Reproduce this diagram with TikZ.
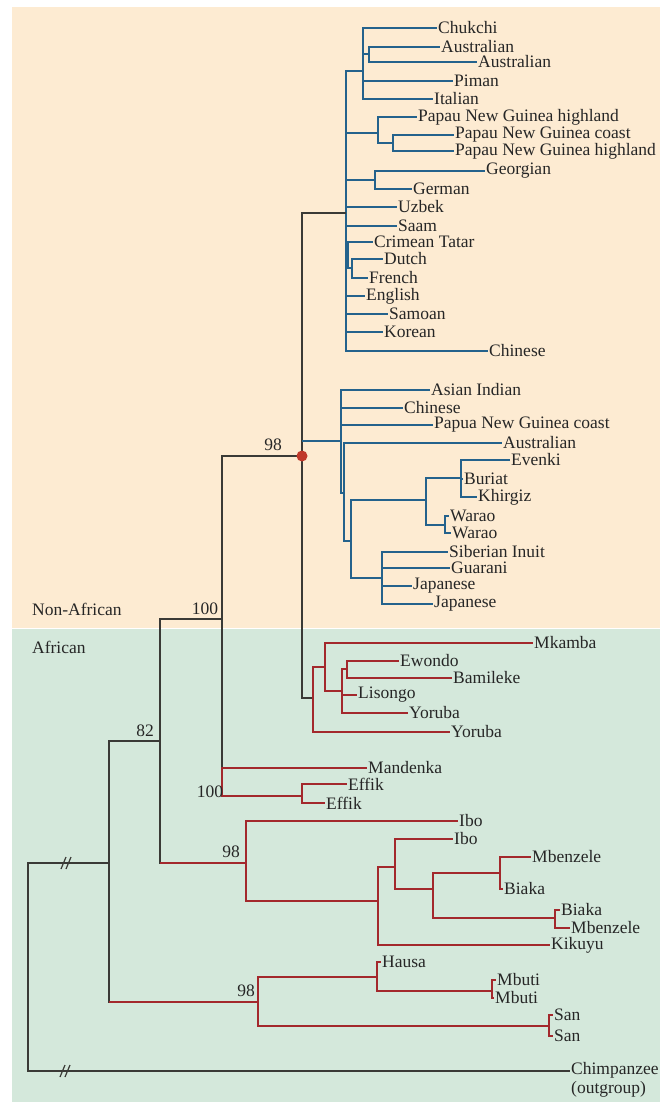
\documentclass[tikz,border=0pt]{standalone}
\usepackage{fontspec}
\setmainfont{Liberation Serif}
\definecolor{peach}{HTML}{FDEBD2}
\definecolor{mint}{HTML}{D4E8DB}
\definecolor{treeblue}{HTML}{24628C}
\definecolor{treered}{HTML}{A3282C}
\definecolor{trunk}{HTML}{3A3A36}
\definecolor{ink}{HTML}{262626}
\definecolor{dotred}{HTML}{C0392B}
\newcommand\leaffont{\fontsize{17.5}{19}\selectfont}
\begin{document}
\begin{tikzpicture}[x=1pt,y=-1pt,line join=miter,
	lf/.style={anchor=west,inner sep=1pt,text=ink,font=\leaffont},
	bs/.style={inner sep=1pt,text=ink,font=\leaffont},
	bl/.style={draw=treeblue,line width=2.2pt},
	rd/.style={draw=treered,line width=2.2pt},
	dk/.style={draw=trunk,line width=2.2pt}]
	\useasboundingbox (0,0) rectangle (660,1102);
	\fill[peach] (12,7) rectangle (660,627.5);
	\fill[mint] (12,629) rectangle (660,1102);
	\node[lf] (nonafr) at (31,609) {Non-African};
	\node[lf] (afr) at (31,647) {African};
	% non-African, first clade
	\coordinate (nB1) at (346,213);
	\coordinate (gA) at (363,71);
	\coordinate (gAu) at (369,54);
	\coordinate (gP) at (378,133);
	\coordinate (gPc) at (393,143);
	\coordinate (gG) at (375,180);
	\coordinate (gC) at (348,255);
	\coordinate (gD) at (352,268);
	\node[lf] (chukchi) at (437,28) {Chukchi};
	\node[lf] (aus1) at (440,47) {Australian};
	\node[lf] (aus2) at (477,62) {Australian};
	\node[lf] (piman) at (453,81) {Piman};
	\node[lf] (italian) at (433,99) {Italian};
	\node[lf] (pngh1) at (417,117) {Papau New Guinea highland};
	\node[lf] (pngc1) at (454,135) {Papau New Guinea coast};
	\node[lf] (pngh2) at (454,151) {Papau New Guinea highland};
	\node[lf] (georgian) at (485,171) {Georgian};
	\node[lf] (german) at (412,189) {German};
	\node[lf] (uzbek) at (397,207) {Uzbek};
	\node[lf] (saam) at (397,226) {Saam};
	\node[lf] (tatar) at (373,242) {Crimean Tatar};
	\node[lf] (dutch) at (383,259) {Dutch};
	\node[lf] (french) at (368,278) {French};
	\node[lf] (english) at (365,296) {English};
	\node[lf] (samoan) at (388,314) {Samoan};
	\node[lf] (korean) at (383,332) {Korean};
	\node[lf] (chinese1) at (488,351) {Chinese};
	\foreach \c in {gA,gP,gG,uzbek.west,saam.west,gC,english.west,samoan.west,korean.west,chinese1.west}
		\draw[bl] (nB1) |- (\c);
	\foreach \c in {chukchi.west,gAu,piman.west,italian.west}
		\draw[bl] (gA) |- (\c);
	\draw[bl] (gAu) |- (aus1.west) (gAu) |- (aus2.west);
	\draw[bl] (gP) |- (pngh1.west) (gP) |- (gPc);
	\draw[bl] (gPc) |- (pngc1.west) (gPc) |- (pngh2.west);
	\draw[bl] (gG) |- (georgian.west) (gG) |- (german.west);
	\draw[bl] (gC) |- (tatar.west) (gC) |- (gD);
	\draw[bl] (gD) |- (dutch.west) (gD) |- (french.west);
	% non-African, second clade
	\coordinate (nB2) at (341,441);
	\coordinate (gK) at (344,493);
	\coordinate (gL) at (351,541);
	\coordinate (gM) at (426,500);
	\coordinate (gE) at (461,478);
	\coordinate (gW) at (445,525);
	\coordinate (gJ) at (382,578);
	\node[lf] (asian) at (430,390) {Asian Indian};
	\node[lf] (chinese2) at (403,408) {Chinese};
	\node[lf] (pngc2) at (433,425) {Papua New Guinea coast};
	\node[lf] (aus3) at (502,443) {Australian};
	\node[lf] (evenki) at (510,460) {Evenki};
	\node[lf] (buriat) at (463,479) {Buriat};
	\node[lf] (khirgiz) at (477,497) {Khirgiz};
	\node[lf] (warao1) at (449,516) {Warao};
	\node[lf] (warao2) at (451,533) {Warao};
	\node[lf] (inuit) at (448,552) {Siberian Inuit};
	\node[lf] (guarani) at (450,568) {Guarani};
	\node[lf] (jap1) at (412,586) {Japanese};
	\node[lf] (jap2) at (433,604) {Japanese};
	\foreach \c in {asian.west,chinese2.west,pngc2.west,gK}
		\draw[bl] (nB2) |- (\c);
	\draw[bl] (gK) |- (aus3.west) (gK) |- (gL);
	\draw[bl] (gL) |- (gM) (gL) |- (gJ);
	\draw[bl] (gM) |- (gE) (gM) |- (gW);
	\draw[bl] (gE) |- (evenki.west) (gE) |- (buriat.west) (gE) |- (khirgiz.west);
	\draw[bl] (gW) |- (warao1.west) (gW) |- (warao2.west);
	\foreach \c in {inuit,guarani,jap1,jap2}
		\draw[bl] (gJ) |- (\c.west);
	% African clades
	\coordinate (gY) at (313,698);
	\coordinate (gY2) at (325,667);
	\coordinate (gY3) at (342,691);
	\coordinate (gEw) at (347,669);
	\node[lf] (mkamba) at (533,643) {Mkamba};
	\node[lf] (ewondo) at (399,661) {Ewondo};
	\node[lf] (bamileke) at (452,678) {Bamileke};
	\node[lf] (lisongo) at (357,695) {Lisongo};
	\node[lf] (yoruba1) at (408,713) {Yoruba};
	\node[lf] (yoruba2) at (450,732) {Yoruba};
	\coordinate (gMa) at (222,782);
	\coordinate (gEf) at (302,796);
	\node[lf] (mandenka) at (367,768) {Mandenka};
	\node[lf] (effik1) at (347,784) {Effik};
	\node[lf] (effik2) at (325,803) {Effik};
	\coordinate (gI) at (246,863);
	\coordinate (gK2) at (378,901);
	\coordinate (gI2) at (395,867);
	\coordinate (gMb) at (433,889);
	\coordinate (gBa) at (500,873);
	\coordinate (gBb) at (555,918);
	\node[lf] (ibo1) at (458,821) {Ibo};
	\node[lf] (ibo2) at (453,839) {Ibo};
	\node[lf] (mbenz1) at (531,857) {Mbenzele};
	\node[lf] (biaka1) at (503,889) {Biaka};
	\node[lf] (biaka2) at (560,910) {Biaka};
	\node[lf] (mbenz2) at (570,928) {Mbenzele};
	\node[lf] (kikuyu) at (550,945) {Kikuyu};
	\coordinate (gH) at (258,1002);
	\coordinate (gHa) at (377,977);
	\coordinate (gMu) at (492,991);
	\coordinate (gS) at (549,1026);
	\node[lf] (hausa) at (381,962) {Hausa};
	\node[lf] (mbuti1) at (496,980) {Mbuti};
	\node[lf] (mbuti2) at (494,998) {Mbuti};
	\node[lf] (san1) at (553,1015) {San};
	\node[lf] (san2) at (553,1036) {San};
	% trunk
	\coordinate (root) at (28,967);
	\coordinate (n109) at (109,863);
	\coordinate (n82) at (160,741);
	\coordinate (n100) at (222,619);
	\coordinate (dot) at (302,456);
	\coordinate (chimpEnd) at (570,1071);
	\node[lf,anchor=north west,align=left] (chimp) at (570,1061) {Chimpanzee\\(outgroup)};
	\draw[dk] (root) |- (n109) (root) |- (chimpEnd);
	\draw[dk] (n109) |- (n82) (n109) |- (gH);
	\draw[dk] (n82) |- (n100) (n82) |- (gI);
	\draw[dk] (n100) |- (dot) (n100) |- (gMa);
	\draw[dk] (dot) |- (nB1) (dot) |- (nB2) (dot) |- (gY);
	\draw[bl] (dot |- nB2) -- (nB2);
	\draw[rd] (n109 |- gH) -- (gH);
	\draw[rd] (n82 |- gI) -- (gI);
	\draw[rd] (gY) |- (gY2) (gY) |- (yoruba2.west);
	\draw[rd] (gY2) |- (mkamba.west) (gY2) |- (gY3);
	\draw[rd] (gY3) |- (gEw) (gY3) |- (lisongo.west) (gY3) |- (yoruba1.west);
	\draw[rd] (gEw) |- (ewondo.west) (gEw) |- (bamileke.west);
	\draw[rd] (gMa) |- (mandenka.west) (gMa) |- (gEf);
	\draw[rd] (gEf) |- (effik1.west) (gEf) |- (effik2.west);
	\draw[rd] (gI) |- (ibo1.west) (gI) |- (gK2);
	\draw[rd] (gK2) |- (gI2) (gK2) |- (kikuyu.west);
	\draw[rd] (gI2) |- (ibo2.west) (gI2) |- (gMb);
	\draw[rd] (gMb) |- (gBa) (gMb) |- (gBb);
	\draw[rd] (gBa) |- (mbenz1.west) (gBa) |- (biaka1.west);
	\draw[rd] (gBb) |- (biaka2.west) (gBb) |- (mbenz2.west);
	\draw[rd] (gH) |- (gHa) (gH) |- (gS);
	\draw[rd] (gHa) |- (hausa.west) (gHa) |- (gMu);
	\draw[rd] (gMu) |- (mbuti1.west) (gMu) |- (mbuti2.west);
	\draw[rd] (gS) |- (san1.west) (gS) |- (san2.west);
	% breaks on the long branches
	\draw[trunk,line width=1.2pt] (61,869) -- (66,857) (66,869) -- (71,857);
	\draw[trunk,line width=1.2pt] (60,1077) -- (65,1065) (65,1077) -- (70,1065);
	\fill[dotred] (dot) circle (5.5);
	% support values
	\node[bs] (s98a) at (273,445) {98};
	\node[bs] (s100a) at (205,609) {100};
	\node[bs] (s82) at (145,731) {82};
	\node[bs] (s100b) at (210,792) {100};
	\node[bs] (s98b) at (231,852) {98};
	\node[bs] (s98c) at (246,991) {98};
\end{tikzpicture}
\end{document}
